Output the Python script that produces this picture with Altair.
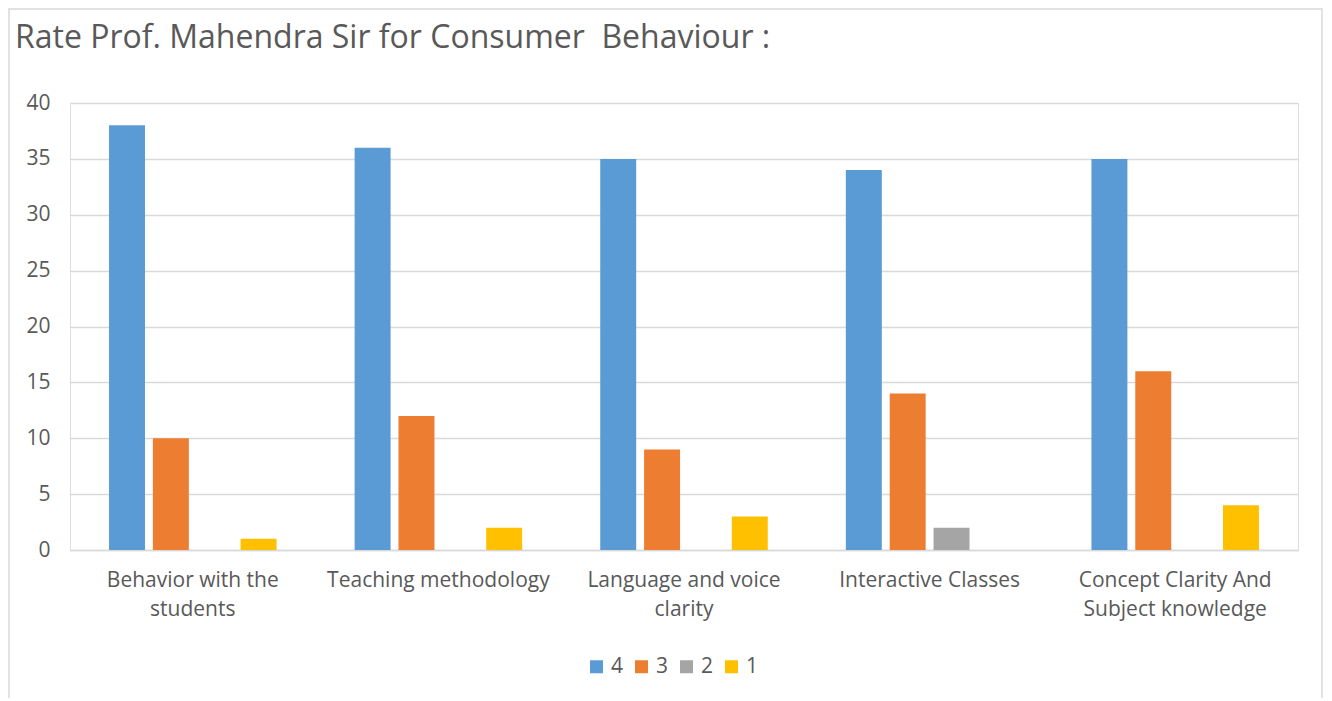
import json
import altair as alt
import pandas as pd

categories = [
    "Behavior with the students",
    "Teaching methodology",
    "Language and voice clarity",
    "Interactive Classes",
    "Concept Clarity And Subject knowledge",
]
label_lines = [
    ["Behavior with the", "students"],
    ["Teaching methodology"],
    ["Language and voice", "clarity"],
    ["Interactive Classes"],
    ["Concept Clarity And", "Subject knowledge"],
]
series = ["4", "3", "2", "1"]
vals_4 = [38, 36, 35, 34, 35]
vals_3 = [10, 12, 9, 14, 16]
vals_2 = [0, 0, 0, 2, 0]
vals_1 = [1, 2, 3, 0, 4]
colors = ["#5B9BD5", "#ED7D31", "#A5A5A5", "#FFC000"]
title_text = "Rate Prof. Mahendra Sir for Consumer\u00a0 Behaviour :"

rows = []
for s, vals in zip(series, [vals_4, vals_3, vals_2, vals_1]):
    for c, v in zip(categories, vals):
        rows.append({"category": c, "rating": s, "count": v})
df = pd.DataFrame(rows)

# label expression: map category to list of lines
expr = "datum.label"
for c, lines in zip(categories, label_lines):
    expr = f"datum.label == {json.dumps(c)} ? {json.dumps(lines)} : ({expr})"

FONT = "Open Sans"
GRAY = "#595959"
GRID = "#D9D9D9"

W, H = 1228, 447

bars = alt.Chart(df).mark_bar().encode(
    x=alt.X(
        "category:N",
        sort=categories,
        title=None,
        scale=alt.Scale(paddingInner=0, paddingOuter=0),
        axis=alt.Axis(
            labelAngle=0,
            labelExpr=expr,
            labelFont=FONT,
            labelFontSize=21,
            labelColor=GRAY,
            labelPadding=19,
            labelLineHeight=29,
            labelBaseline="top",
            labelLimit=400,
            ticks=False,
            domain=True,
            domainColor=GRID,
            domainWidth=1.5,
            grid=False,
        ),
    ),
    xOffset=alt.XOffset(
        "rating:N",
        sort=series,
        scale=alt.Scale(paddingInner=0.18, paddingOuter=0.89),
    ),
    y=alt.Y(
        "count:Q",
        title=None,
        scale=alt.Scale(domain=[0, 40], nice=False),
        axis=alt.Axis(
            values=[0, 5, 10, 15, 20, 25, 30, 35, 40],
            labelFont=FONT,
            labelFontSize=21,
            labelColor=GRAY,
            labelPadding=20,
            ticks=False,
            domain=False,
            gridColor=GRID,
            gridWidth=1.5,
        ),
    ),
    color=alt.Color(
        "rating:N",
        sort=series,
        scale=alt.Scale(domain=series, range=colors),
        legend=alt.Legend(
            title=None,
            orient="none",
            direction="horizontal",
            legendX=516,
            legendY=553,
            symbolType="square",
            symbolSize=169,
            symbolStrokeWidth=0,
            labelFont=FONT,
            labelFontSize=21,
            labelColor=GRAY,
            labelOffset=4,
            columnPadding=7,
        ),
    ),
)

border = alt.Chart(pd.DataFrame({"a": [0]})).mark_rect(
    fill="transparent", stroke=GRID, strokeWidth=1.5
).encode(
    x=alt.value(-61), x2=alt.value(W + 24), y=alt.value(-94), y2=alt.value(H + 300)
)

title = alt.Chart(pd.DataFrame({"t": [title_text]})).mark_text(
    align="left",
    baseline="alphabetic",
    font=FONT,
    fontSize=32,
    color=GRAY,
).encode(x=alt.value(-55), y=alt.value(-55), text="t:N")

chart = alt.layer(border, title, bars).properties(
    width=W,
    height=H,
    padding={"left": 62, "top": 95, "right": 26, "bottom": 148},
    autosize=alt.AutoSizeParams(type="none"),
).configure_view(stroke=None).configure(background="white")

chart.save("out.html", embed_options={"renderer": "svg", "actions": False})
